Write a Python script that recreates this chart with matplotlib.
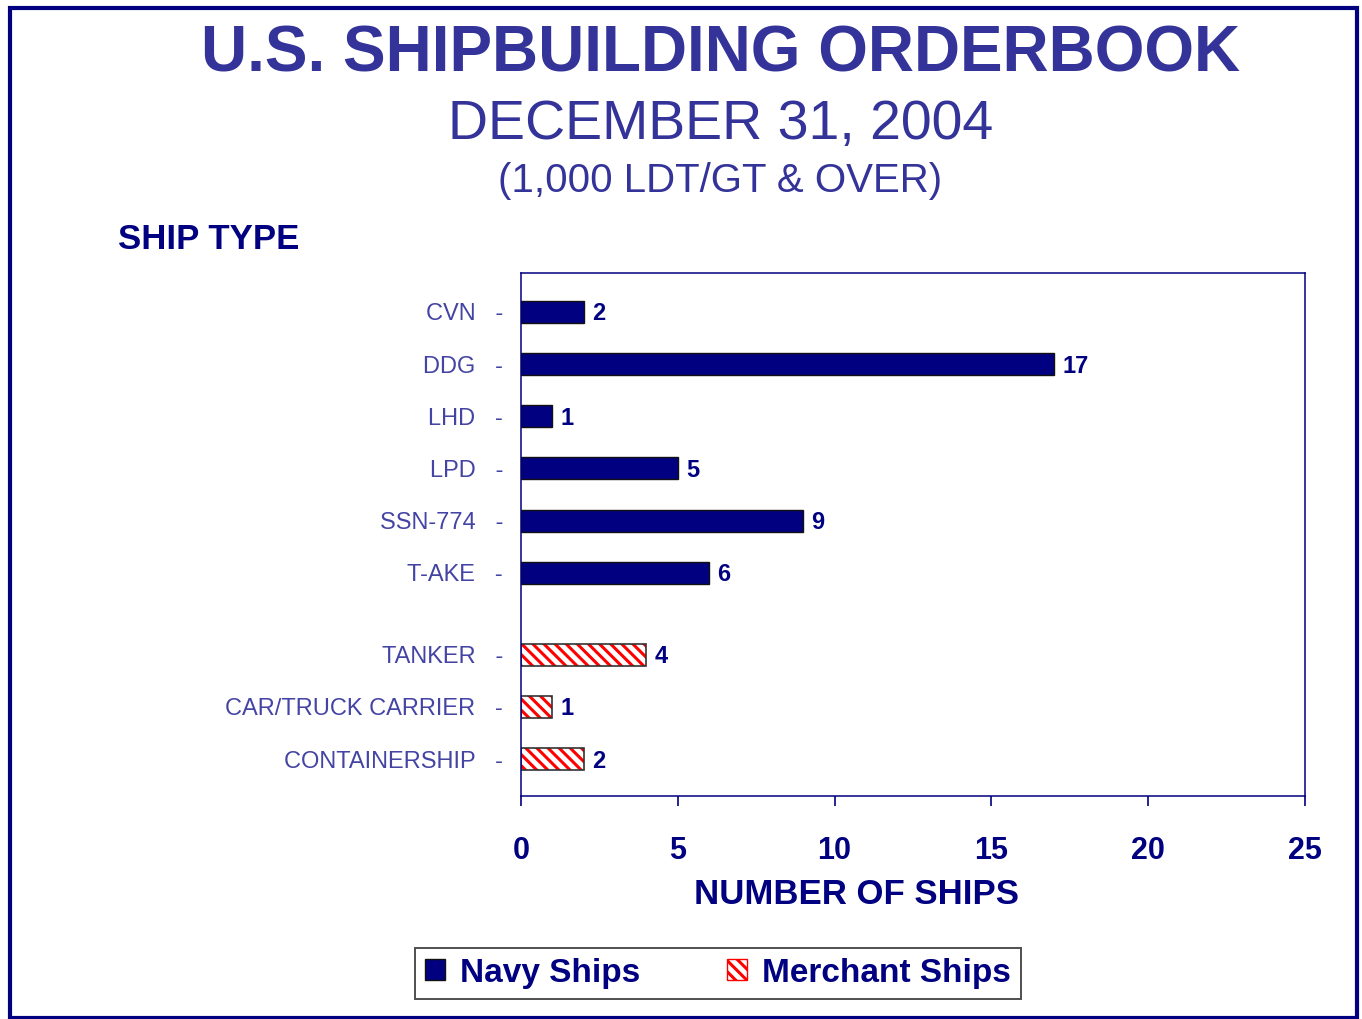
import numpy as np
import matplotlib.pyplot as plt
from matplotlib.patches import Patch, Rectangle

plt.rcParams['font.family'] = ['Liberation Sans', 'DejaVu Sans']
plt.rcParams['hatch.linewidth'] = 2.2

# data
navy_types = ['CVN', 'DDG', 'LHD', 'LPD', 'SSN-774', 'T-AKE']
navy_counts = [2, 17, 1, 5, 9, 6]
merchant_types = ['TANKER', 'CAR/TRUCK CARRIER', 'CONTAINERSHIP']
merchant_counts = [4, 1, 2]
x_ticks = [0, 5, 10, 15, 20, 25]

NAVY = '#000080'
TITLE_C = '#333399'
LABEL_C = '#4444a4'

navy_pos = np.arange(len(navy_types))
merchant_pos = len(navy_types) + 0.57 + np.arange(len(merchant_types))

fig = plt.figure(figsize=(13.62, 10.19), dpi=100)
ax = fig.add_axes([0.3825, 0.2188, 0.5756, 0.5133])

bar_h = 0.42
ax.barh(navy_pos, navy_counts, height=bar_h, color=NAVY, edgecolor='#111111', linewidth=1.0)
# merchant bars: red hatch on white, then a dark outline on top
ax.barh(merchant_pos, merchant_counts, height=bar_h, color='white', edgecolor='#ff0000',
        hatch='\\\\\\', linewidth=0)
ax.barh(merchant_pos, merchant_counts, height=bar_h, color='none', edgecolor='#333333', linewidth=1.2)

for p, v in zip(list(navy_pos) + list(merchant_pos), navy_counts + merchant_counts):
    ax.annotate(str(v), (v, p), xytext=(6, -1.5), textcoords='offset points',
                va='center', ha='left', fontsize=17, fontweight='bold', color=NAVY)

ax.set_xlim(0, 25)
ax.set_ylim(merchant_pos[-1] + 0.71, -0.746)
ax.set_xticks(x_ticks)
ax.set_xticklabels([str(t) for t in x_ticks], fontsize=22, fontweight='bold', color=NAVY)
ax.tick_params(axis='x', direction='out', length=7, width=1.2, color=NAVY, pad=22)

ax.set_yticks(list(navy_pos) + list(merchant_pos))
ax.set_yticklabels([t + '   -' for t in navy_types + merchant_types], fontsize=17, color=LABEL_C)
ax.tick_params(axis='y', length=0, pad=13)

for s in ax.spines.values():
    s.set_color(NAVY)
    s.set_linewidth(1.1)

# titles
fig.text(0.529, 0.947, 'U.S. SHIPBUILDING ORDERBOOK', ha='center', va='center',
         fontsize=46, fontweight='bold', color=TITLE_C)
fig.text(0.529, 0.877, 'DECEMBER 31, 2004', ha='center', va='center', fontsize=40, color=TITLE_C)
fig.text(0.529, 0.822, '(1,000 LDT/GT & OVER)', ha='center', va='center', fontsize=29, color=TITLE_C)
fig.text(0.0866, 0.765, 'SHIP TYPE', ha='left', va='center', fontsize=25, fontweight='bold', color=NAVY)
fig.text(0.6285, 0.122, 'NUMBER OF SHIPS', ha='center', va='center', fontsize=25,
         fontweight='bold', color=NAVY)

# legend
handles = [Patch(facecolor=NAVY, edgecolor='#111111', label='Navy Ships'),
           Patch(facecolor='white', edgecolor='#ff0000', hatch='\\\\\\', label='Merchant Ships')]
leg = fig.legend(handles=handles, loc='center', bbox_to_anchor=(0.527, 0.045), ncol=2,
                 fontsize=24, frameon=True, fancybox=False, handlelength=0.6, handleheight=0.6,
                 handletextpad=0.45, columnspacing=2.6, borderpad=0.3, borderaxespad=0)
leg.get_frame().set_edgecolor('#222222')
leg.get_frame().set_linewidth(1.4)
for t in leg.get_texts():
    t.set_color(NAVY)
    t.set_fontweight('bold')

# page border
fig.add_artist(Rectangle((0.0073, 0.0005), 0.9893, 0.9915, transform=fig.transFigure,
                         fill=False, edgecolor=NAVY, linewidth=3))

fig.savefig('out.png', dpi=100)
